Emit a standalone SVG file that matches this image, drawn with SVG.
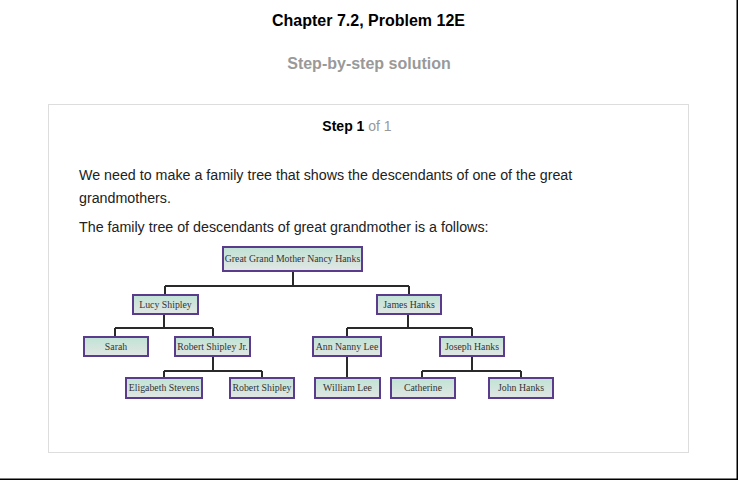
<svg xmlns="http://www.w3.org/2000/svg" width="738" height="480" viewBox="0 0 738 480">
<defs>
<linearGradient id="g" x1="0" y1="0" x2="0" y2="1">
<stop offset="0" stop-color="#bfe3d4"/>
<stop offset="1" stop-color="#e2e6e4"/>
</linearGradient>
<style>
.h{font-family:"Liberation Sans",Arial,sans-serif;font-weight:bold;text-anchor:middle}
.b{font-family:"Liberation Sans",Arial,sans-serif;font-size:14.25px;fill:#222}
.n rect{fill:url(#g);stroke:#5b3c8c;stroke-width:2}
.n text{font-family:"Liberation Serif","Times New Roman",serif;font-size:9.8px;fill:#333;text-anchor:middle}
.c{fill:none;stroke:#2a2a2a;stroke-width:2}
</style>
</defs>
<rect width="738" height="480" fill="#fff"/>
<rect x="736.5" y="0" width="1.5" height="480" fill="#000"/>
<rect x="0" y="478.5" width="738" height="1.5" fill="#000"/>
<text class="h" x="368.5" y="26" font-size="16" fill="#000">Chapter 7.2, Problem 12E</text>
<text class="h" x="369" y="69" font-size="16" fill="#999">Step-by-step solution</text>
<rect x="48.5" y="104.5" width="640" height="348" fill="#fff" stroke="#ddd"/>
<text class="h" x="357" y="131" font-size="14"><tspan fill="#000">Step 1</tspan><tspan fill="#999" font-weight="normal"> of 1</tspan></text>
<text class="b" x="79" y="180">We need to make a family tree that shows the descendants of one of the great</text>
<text class="b" x="79" y="203">grandmothers.</text>
<text class="b" x="79" y="232">The family tree of descendants of great grandmother is a follows:</text>
<g id="connectors" class="c">
<path d="M293 271V286M165 286H409M165 286V295M409 286V295"/>
<path d="M164 314V328M115 328H213M115 328V337M213 328V337"/>
<path d="M408 314V328M347 328H472M347 328V337M472 328V337"/>
<path d="M213 357V371M164 371H262M164 371V378M262 371V378"/>
<path d="M347 357V378"/>
<path d="M472 357V371M422 371H521M422 371V378M521 371V378"/>
</g>
<g id="n-nancy" class="n"><rect x="223" y="247" width="139" height="24"/><text x="292.5" y="262">Great Grand Mother Nancy Hanks</text></g>
<g id="n-lucy" class="n"><rect x="133" y="295" width="65" height="19"/><text x="165.5" y="307.5">Lucy Shipley</text></g>
<g id="n-james" class="n"><rect x="377" y="295" width="64" height="19"/><text x="409" y="307.5">James Hanks</text></g>
<g id="n-sarah" class="n"><rect x="84" y="337" width="64" height="19"/><text x="116" y="350">Sarah</text></g>
<g id="n-robertjr" class="n"><rect x="175" y="337" width="75" height="19"/><text x="212.5" y="349.5">Robert Shipley Jr.</text></g>
<g id="n-ann" class="n"><rect x="313" y="337" width="68" height="19"/><text x="347" y="349.5">Ann Nanny Lee</text></g>
<g id="n-joseph" class="n"><rect x="440" y="337" width="64" height="19"/><text x="472" y="349.5">Joseph Hanks</text></g>
<g id="n-eligabeth" class="n"><rect x="126" y="378" width="76" height="20"/><text x="164" y="391">Eligabeth Stevens</text></g>
<g id="n-robert" class="n"><rect x="230" y="378" width="64" height="20"/><text x="262" y="391">Robert Shipley</text></g>
<g id="n-william" class="n"><rect x="315" y="378" width="65" height="20"/><text x="347.5" y="391">William Lee</text></g>
<g id="n-catherine" class="n"><rect x="391" y="378" width="64" height="20"/><text x="423" y="391">Catherine</text></g>
<g id="n-john" class="n"><rect x="489" y="378" width="64" height="20"/><text x="521" y="391">John Hanks</text></g>
</svg>
